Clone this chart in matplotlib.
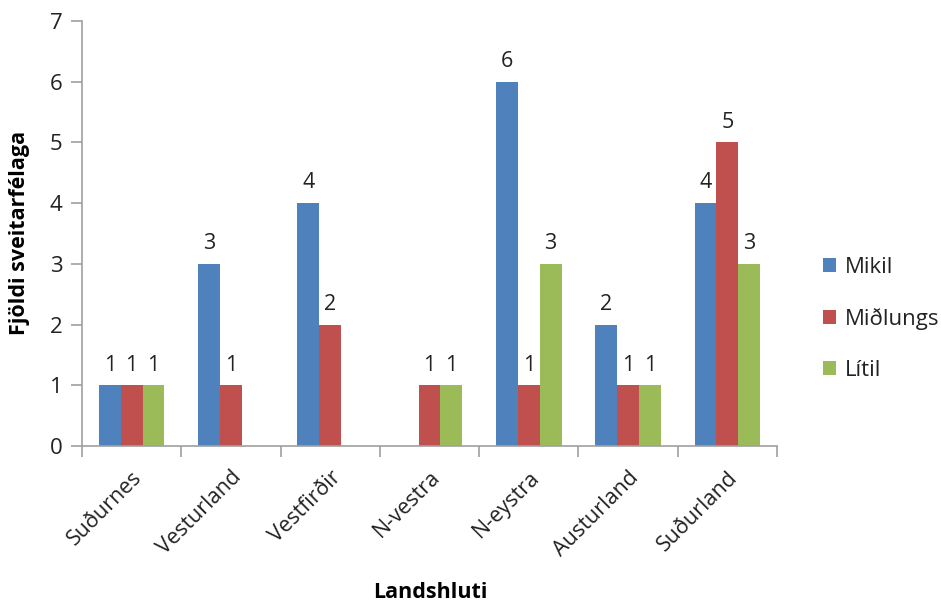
import matplotlib
matplotlib.use("Agg")
import matplotlib.pyplot as plt
import numpy as np

categories = ["Suðurnes", "Vesturland", "Vestfirðir", "N-vestra", "N-eystra", "Austurland", "Suðurland"]
series_names = ["Mikil", "Miðlungs", "Lítil"]
mikil = [1, 3, 4, 0, 6, 2, 4]
midlungs = [1, 1, 2, 1, 1, 1, 5]
litil = [1, 0, 0, 1, 3, 1, 3]
colors = ["#4F81BD", "#C0504D", "#9BBB59"]
yticks = [0, 1, 2, 3, 4, 5, 6, 7]

plt.rcParams['font.family'] = ['Open Sans', 'DejaVu Sans']

fig = plt.figure(figsize=(9.41, 6.06), dpi=100)
ax = fig.add_axes([82/941, 1-446/606, (777-82)/941, (446-21)/606])

x = np.arange(len(categories))
w = 0.22
for i, (vals, name, c) in enumerate(zip([mikil, midlungs, litil], series_names, colors)):
    pos = x + (i - 1) * w
    ax.bar(pos, vals, width=w, color=c, label=name, zorder=2)
    for p, v in zip(pos, vals):
        if v > 0:
            ax.annotate(str(v), (p, v), xytext=(0, 7), textcoords="offset points",
                        ha="center", va="bottom", fontsize=15.5, color="#222222")

ax.set_xlim(-0.5, len(categories) - 0.5)
ax.set_ylim(0, 7)
ax.set_yticks(yticks)
ax.set_yticklabels([str(t) for t in yticks], fontsize=16, color="#222222")
ax.set_xticks(x)
ax.set_xticklabels(categories, rotation=45, ha="right", rotation_mode="anchor",
                   fontsize=15.5, color="#222222")
ax.tick_params(axis="x", length=0, pad=15)
ax.set_xticks(np.arange(-0.5, len(categories) + 0.5, 1), minor=True)
ax.tick_params(axis="x", which="minor", length=8, color="#A0A0A0", width=1.2)
ax.tick_params(axis="y", length=8, color="#A0A0A0", width=1.2, pad=6)

for s in ["top", "right"]:
    ax.spines[s].set_visible(False)
for s in ["left", "bottom"]:
    ax.spines[s].set_color("#A0A0A0")
    ax.spines[s].set_linewidth(1.2)

fig.text(20/941, 1-233/606, "Fjöldi sveitarfélaga", rotation=90, ha="center", va="center",
         fontsize=15.5, fontweight="bold")
fig.text(430/941, 1-592/606, "Landshluti", ha="center", va="center",
         fontsize=15.5, fontweight="bold")

leg = fig.legend(loc="center left", bbox_to_anchor=(803/941, 1-319/606), frameon=False,
                 fontsize=16, handlelength=0.6, handleheight=0.6, handletextpad=0.4,
                 labelspacing=1.35)
for t in leg.get_texts():
    t.set_color("#222222")

fig.savefig("out.png", dpi=100)
